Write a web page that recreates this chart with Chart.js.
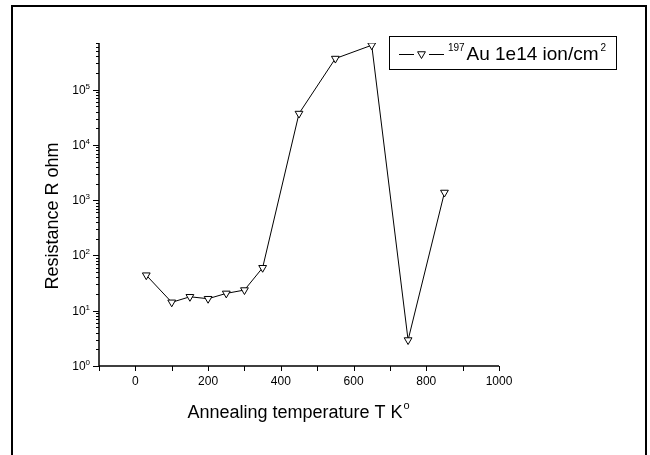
<!DOCTYPE html>
<html>
<head>
<meta charset="utf-8">
<script src="https://cdn.jsdelivr.net/npm/chart.js@4"></script>
<style>
  html, body { margin: 0; padding: 0; background: #fff; }
  #wrap { width: 650px; height: 455px; }
</style>
</head>
<body>
<div id="wrap"><canvas id="grafico" width="650" height="455"></canvas></div>
<script>
// data
const temps = [30, 100, 150, 200, 250, 300, 350, 450, 550, 650, 750, 850];
const resistance = [44, 14.2, 17.9, 16.5, 20.6, 23.7, 60, 37000, 366000, 638000, 2.95, 1380];

const xMajorTicks = [0, 200, 400, 600, 800, 1000];
const xMinorTicks = [-100, 100, 300, 500, 700, 900];
const yDecades = [0, 1, 2, 3, 4, 5];

const seriesLabel = ['197', 'Au 1e14 ion/cm', '2'];
const xTitle = ['Annealing temperature T K', 'o'];
const yTitle = 'Resistance R ohm';

const FONT = '"Liberation Sans", Arial, Helvetica, sans-serif';

// draws axes, ticks, labels, titles, legend and frame
const origin = {
  id: 'origin',
  afterDraw(chart) {
    const c = chart.ctx;
    const xs = chart.scales.x;
    const ys = chart.scales.y;
    const a = chart.chartArea;
    c.save();
    c.strokeStyle = '#000';
    c.fillStyle = '#000';

    // frame round the whole figure
    c.lineWidth = 2;
    c.strokeRect(12, 6, 634, 460);

    // axis lines
    c.lineWidth = 1.5;
    c.beginPath();
    c.moveTo(a.left, a.top);
    c.lineTo(a.left, a.bottom);
    c.lineTo(a.right, a.bottom);
    c.stroke();

    // x ticks
    c.lineWidth = 1;
    c.beginPath();
    xMajorTicks.concat(xMinorTicks).forEach(v => {
      const px = Math.round(xs.getPixelForValue(v)) + 0.5;
      c.moveTo(px, a.bottom);
      c.lineTo(px, a.bottom + 5);
    });
    c.stroke();
    c.font = '12px ' + FONT;
    c.textAlign = 'center';
    c.textBaseline = 'middle';
    xMajorTicks.forEach(v => {
      c.fillText(String(v), xs.getPixelForValue(v), a.bottom + 16);
    });

    // y ticks (log, with minor ticks)
    c.beginPath();
    for (let d = 0; d <= 5; d++) {
      for (let m = 1; m <= 9; m++) {
        const v = m * Math.pow(10, d);
        if (v > ys.max) break;
        const py = Math.round(ys.getPixelForValue(v)) + 0.5;
        c.moveTo(a.left, py);
        c.lineTo(a.left - (m === 1 ? 6 : 3), py);
      }
    }
    c.stroke();
    yDecades.forEach(d => {
      const py = ys.getPixelForValue(Math.pow(10, d));
      c.font = '8px ' + FONT;
      c.textAlign = 'right';
      c.textBaseline = 'alphabetic';
      const ew = c.measureText(String(d)).width;
      c.fillText(String(d), a.left - 9, py - 1);
      c.font = '12px ' + FONT;
      c.fillText('10', a.left - 9 - ew, py + 4);
    });

    // axis titles
    c.font = '18px ' + FONT;
    c.textAlign = 'left';
    c.textBaseline = 'alphabetic';
    const tw = c.measureText(xTitle[0]).width;
    c.font = '11px ' + FONT;
    const sw = c.measureText(xTitle[1]).width;
    const x0 = (a.left + a.right) / 2 - (tw + sw) / 2 - 1;
    c.font = '18px ' + FONT;
    c.fillText(xTitle[0], x0, 418);
    c.font = '11px ' + FONT;
    c.fillText(xTitle[1], x0 + tw + 1, 409);

    c.save();
    c.translate(58, 216);
    c.rotate(-Math.PI / 2);
    c.font = '18px ' + FONT;
    c.textAlign = 'center';
    c.fillText(yTitle, 0, 0);
    c.restore();

    // legend
    c.lineWidth = 1;
    c.strokeRect(389.5, 36.5, 227, 33);
    c.beginPath();
    c.moveTo(399, 54.5);
    c.lineTo(414, 54.5);
    c.moveTo(429, 54.5);
    c.lineTo(444, 54.5);
    c.stroke();
    const r = 4.5;
    c.beginPath();
    c.moveTo(421.5, 54 + r);
    c.lineTo(421.5 - r * 0.866, 54 - r / 2);
    c.lineTo(421.5 + r * 0.866, 54 - r / 2);
    c.closePath();
    c.fillStyle = '#fff';
    c.fill();
    c.stroke();
    c.fillStyle = '#000';
    c.textAlign = 'left';
    c.font = '10px ' + FONT;
    c.fillText(seriesLabel[0], 448, 51);
    c.font = '19px ' + FONT;
    c.fillText(seriesLabel[1], 466.5, 60);
    const w1 = c.measureText(seriesLabel[1]).width;
    c.font = '10px ' + FONT;
    c.fillText(seriesLabel[2], 466.5 + w1 + 2, 51);

    c.restore();
  }
};

const ctx = document.getElementById('grafico');

new Chart(ctx, {
  type: 'scatter',
  data: {
    datasets: [{
      label: seriesLabel.join(''),
      data: temps.map((t, i) => ({ x: t, y: resistance[i] })),
      showLine: true,
      borderColor: '#000',
      borderWidth: 1,
      pointStyle: 'triangle',
      rotation: 180,
      pointRadius: 4.5,
      pointBackgroundColor: '#fff',
      pointBorderColor: '#000',
      pointBorderWidth: 1
    }]
  },
  options: {
    responsive: false,
    animation: false,
    layout: { padding: { left: 99, right: 151, top: 43, bottom: 89 } },
    plugins: { legend: { display: false }, tooltip: { enabled: false } },
    scales: {
      x: { type: 'linear', min: -100, max: 1000, display: false },
      y: { type: 'logarithmic', min: 1, max: 700000, display: false }
    }
  },
  plugins: [origin]
});
</script>
</body>
</html>
